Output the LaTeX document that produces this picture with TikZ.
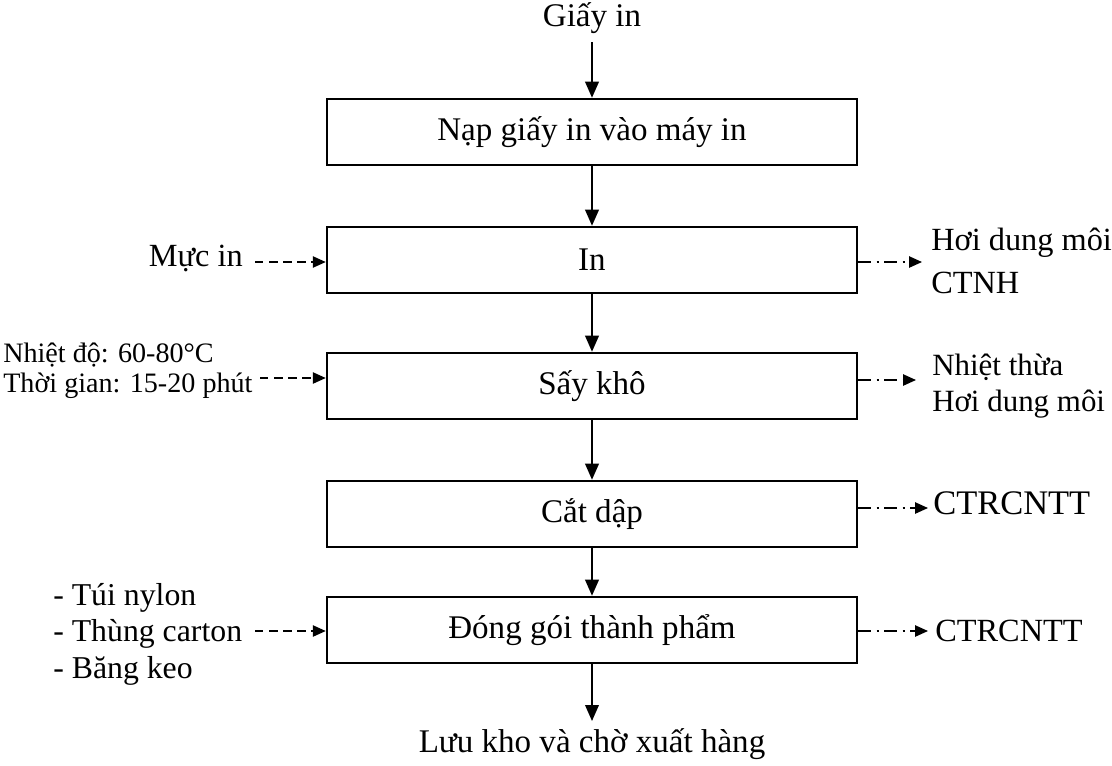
\documentclass[tikz,border=0pt]{standalone}
\usepackage{fontspec}
\setmainfont{Liberation Serif}
\usetikzlibrary{arrows.meta,positioning}

\begin{document}
\begin{tikzpicture}[
    x=0.025cm, y=-0.025cm,
    stepbox/.style={rectangle, draw, line width=1.8pt, minimum width=530*0.025cm, minimum height=66*0.025cm, font=\fontsize{23.5}{28}\selectfont},
    label/.style={font=\fontsize{23.5}{28}\selectfont, inner sep=0pt},
    side/.style={font=\fontsize{23}{30.5}\selectfont, inner sep=0pt, align=left},
    arrow/.style={-{Triangle[length=4mm, width=3.4mm]}, line width=1.3pt},
    input/.style={-{Triangle[length=3.2mm, width=2.8mm]}, line width=1pt, dash pattern=on 6pt off 4pt},
    output/.style={-{Triangle[length=3.2mm, width=2.8mm]}, line width=1pt, dash pattern=on 9pt off 4pt on 1.5pt off 4pt}
  ]
    \useasboundingbox (0,0) rectangle (1112,765);

    % main line
    \node[label] (paper) at (592,18) {Giấy in};
    \node[stepbox] (feed) at (592,132) {Nạp giấy in vào máy in};
    \node[stepbox] (print) at (592,260) {In};
    \node[stepbox] (dry) at (592,386) {Sấy khô};
    \node[stepbox] (cut) at (592,514) {Cắt dập};
    \node[stepbox] (pack) at (592,630) {Đóng gói thành phẩm};
    \node[label] (store) at (592,744) {Lưu kho và chờ xuất hàng};

    \coordinate (paper-out) at (592,42);
    \coordinate (store-in) at (592,721);
    \draw[arrow] (paper-out) -- (feed.north);
    \draw[arrow] (feed) -- (print);
    \draw[arrow] (print) -- (dry);
    \draw[arrow] (dry) -- (cut);
    \draw[arrow] (cut) -- (pack);
    \draw[arrow] (pack.south) -- (store-in);

    % inputs
    \node[side, anchor=east] (ink) at (243,258) {Mực in};
    \coordinate (ink-in) at (255,262);
    \draw[input] (ink-in) -- (ink-in -| print.west);

    \node[side, anchor=west, font=\fontsize{20}{21.5}\selectfont] (heat) at (3,371) {Nhiệt độ: 60-80°C\\Thời gian: 15-20 phút};
    \coordinate (heat-in) at (260,378);
    \draw[input] (heat-in) -- (heat-in -| dry.west);

    \node[side, anchor=west, font=\fontsize{22.6}{26}\selectfont] (mat) at (53,634) {- Túi nylon\\- Thùng carton\\- Băng keo};
    \coordinate (mat-in) at (255,631);
    \draw[input] (mat-in) -- (mat-in -| pack.west);

    % outputs
    \coordinate (print-out) at (922,262);
    \draw[output] (print-out -| print.east) -- (print-out);
    \node[side, anchor=west] (vapor) at (931,261) {Hơi dung môi\\CTNH};

    \coordinate (dry-out) at (916,380);
    \draw[output] (dry-out -| dry.east) -- (dry-out);
    \node[side, anchor=west, font=\fontsize{22}{25}\selectfont] (waste-heat) at (932,386) {Nhiệt thừa\\Hơi dung môi};

    \coordinate (cut-out) at (928,508);
    \draw[output] (cut-out -| cut.east) -- (cut-out);
    \node[side, anchor=west, font=\fontsize{24.5}{28}\selectfont] (scrap1) at (933,503) {CTRCNTT};

    \coordinate (pack-out) at (928,631);
    \draw[output] (pack-out -| pack.east) -- (pack-out);
    \node[side, anchor=west] (scrap2) at (935,631) {CTRCNTT};
  \end{tikzpicture}
\end{document}
